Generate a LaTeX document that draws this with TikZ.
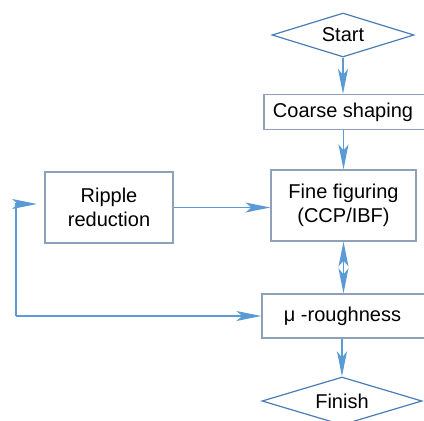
\documentclass[tikz,border=0pt]{standalone}
\usepackage{fontspec}
\setmainfont{Liberation Sans}
\usetikzlibrary{arrows.meta,shapes.geometric}
\definecolor{boxc}{HTML}{8EA1B8}
\definecolor{diac}{HTML}{4A7CB5}
\definecolor{arrc}{HTML}{5B9BD5}
\tikzset{
  every node/.style={font=\fontsize{20bp}{24bp}\selectfont, text=black},
  procbox/.style={draw=boxc, line width=1.2bp, rectangle, inner sep=0pt, align=center},
  decis/.style={draw=diac, line width=1.2bp, diamond, inner sep=0pt},
  arr/.style={draw=arrc, line width=1.2bp, -{Stealth[length=25bp,width=10bp,inset=6bp]}},
  darr/.style={draw=arrc, line width=1.2bp, {Stealth[length=25bp,width=10bp,inset=6bp]}-{Stealth[length=25bp,width=10bp,inset=6bp]}}
}
\begin{document}
\begin{tikzpicture}[x=1bp,y=-1bp]
\useasboundingbox (0,0) rectangle (424,421);
\node[decis, aspect=3.2, minimum width=142bp, minimum height=44bp] (start) at (343,35) {Start};
\node[procbox, minimum width=162bp, minimum height=35bp] (coarse) at (345,112) {\hspace*{-4bp}Coarse shaping};
\node[procbox, minimum width=145bp, minimum height=71bp] (fine) at (343.5,205.5) {Fine figuring\\(CCP/IBF)};
\node[procbox, minimum width=128bp, minimum height=71bp] (ripple) at (109,207.5) {Ripple\\reduction};
\node[procbox, minimum width=164bp, minimum height=44bp] (mu) at (344,316) {\hspace*{-3bp}μ -roughness};
\node[decis, aspect=3.3, minimum width=160bp, minimum height=48bp] (finish) at (342,401) {Finish};
\coordinate (lp) at (16,316);
\coordinate (fb) at (37,204);
\draw[arr] (start.south) -- (start.south |- coarse.north);
\draw[arr] (fine.north |- coarse.south) -- (fine.north);
\draw[darr] (fine.south) -- (fine.south |- mu.north);
\draw[arr] (finish.north |- mu.south) -- (finish.north);
\draw[arr] (ripple.east) -- (ripple.east -| fine.west);
\draw[arr] (lp) |- (fb);
\draw[arr] (lp) -- (mu.west);
\end{tikzpicture}
\end{document}
